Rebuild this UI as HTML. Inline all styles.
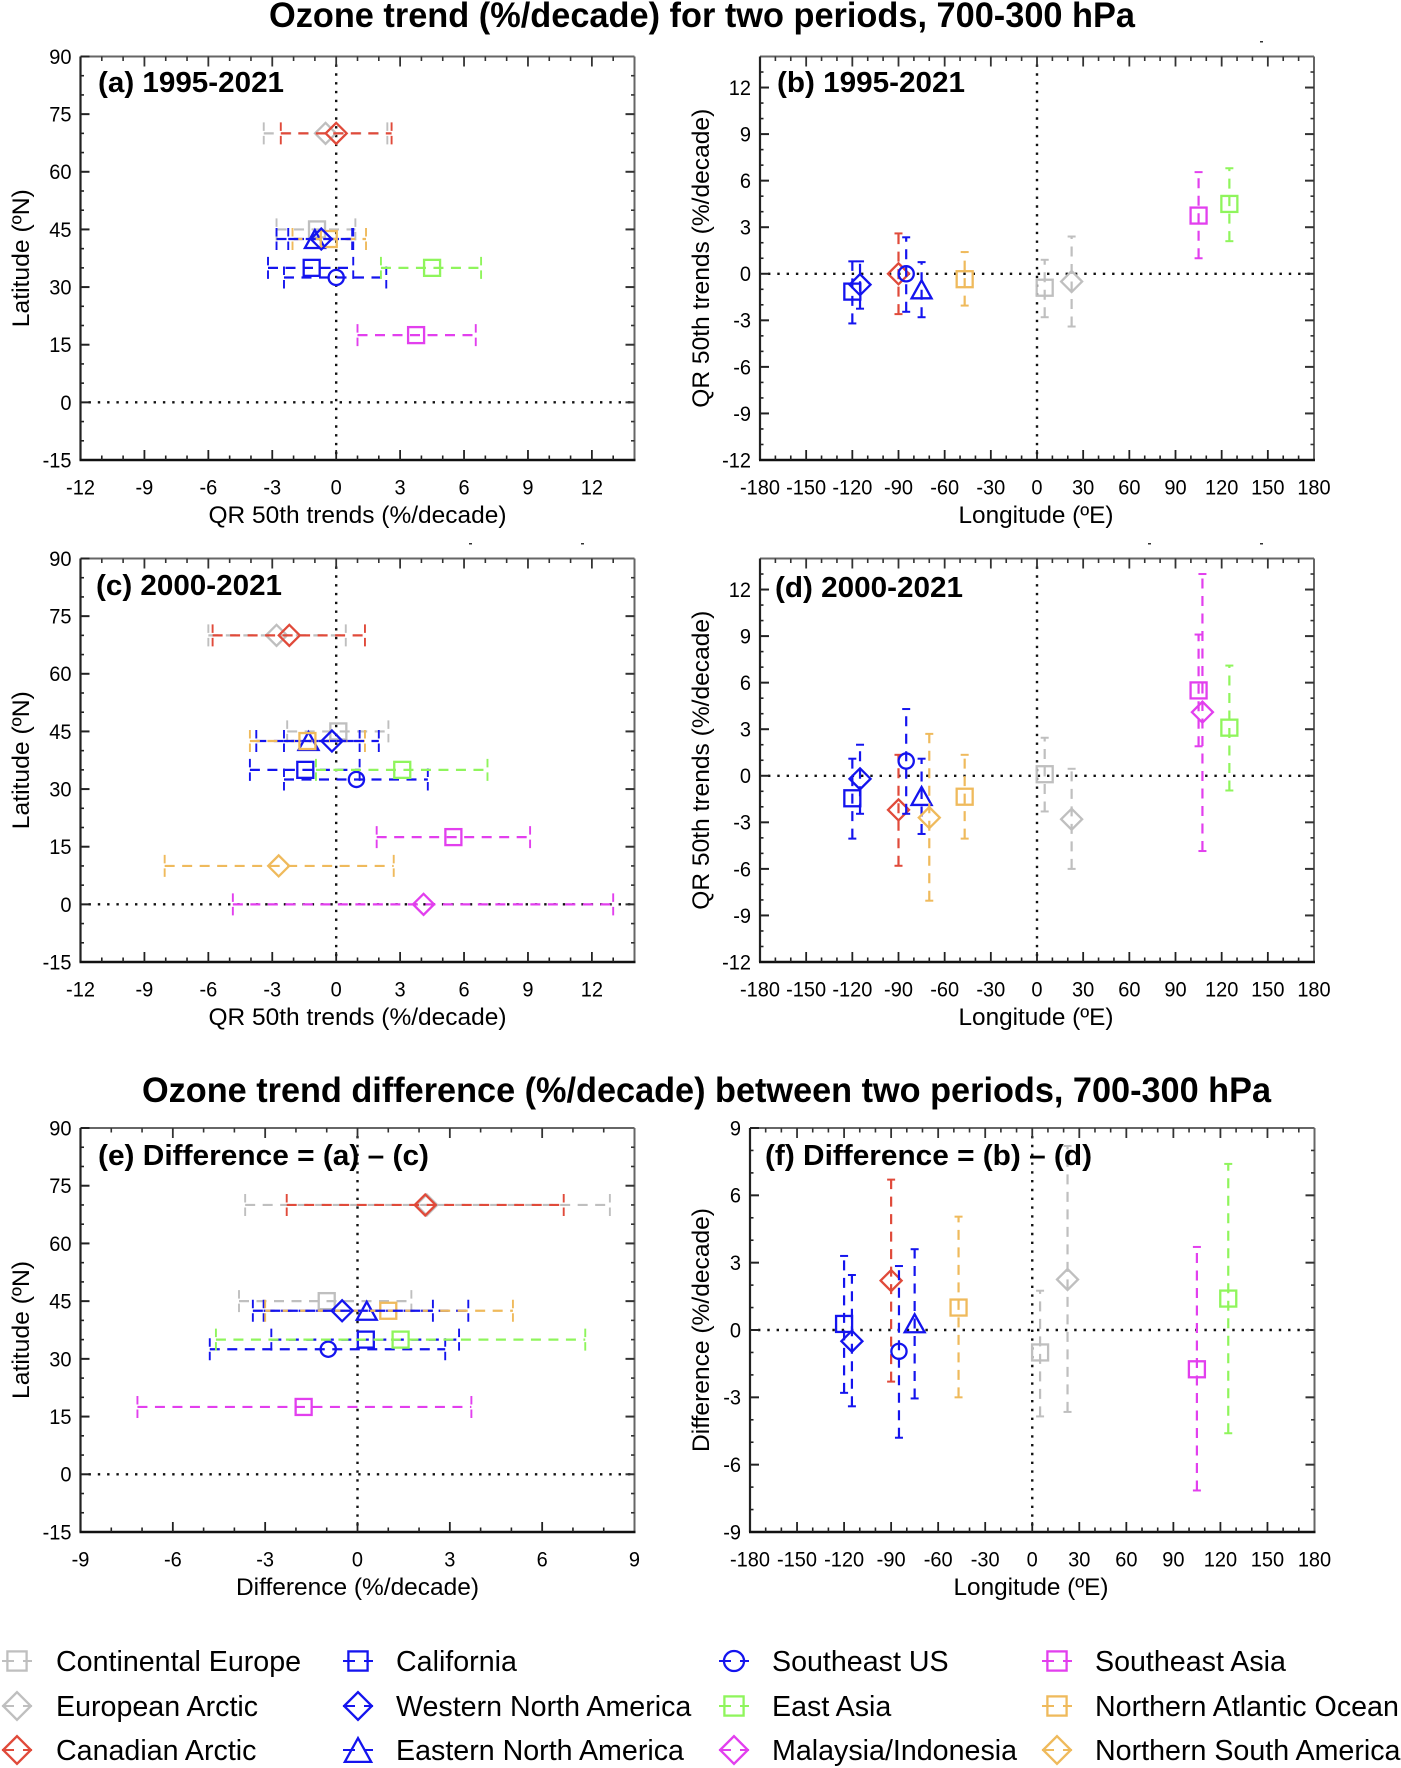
<!DOCTYPE html>
<html lang="en">
<head>
<meta charset="utf-8">
<title>Ozone trend for two periods</title>
<style>
html,body{margin:0;padding:0;background:#fff;}
svg{display:block;}
text{font-family:"Liberation Sans",sans-serif;fill:#000;}
</style>
</head>
<body>
<svg id="figure" xmlns="http://www.w3.org/2000/svg" width="1401" height="1768" viewBox="0 0 1401 1768">
<text x="269" y="27" font-size="35" font-weight="bold" textLength="866" lengthAdjust="spacingAndGlyphs">Ozone trend (%/decade) for two periods, 700-300 hPa</text>
<text x="142" y="1102" font-size="35" font-weight="bold" textLength="1129" lengthAdjust="spacingAndGlyphs">Ozone trend difference (%/decade) between two periods, 700-300 hPa</text>
<rect x="1260" y="41" width="3" height="1.5" fill="#333"/>
<rect x="469" y="543" width="3" height="1.5" fill="#333"/>
<rect x="581" y="543" width="3" height="1.5" fill="#333"/>
<rect x="1148" y="543" width="3" height="1.5" fill="#333"/>
<rect x="1260" y="543" width="3" height="1.5" fill="#333"/>
</svg>
<script>
// ---- data (draw order: back to front) ----
const regionNames = ["Continental Europe","European Arctic","Canadian Arctic","California","Eastern North America","Northern Atlantic Ocean","Western North America","Southeast US","East Asia","Southeast Asia","Malaysia/Indonesia","Northern South America"];
const regionLatitudes = [45,70,70,35,42.5,42.5,42.5,32.5,35,17.5,0,10];
const regionLongitudes = [5,22.5,-90,-120,-75,-47,-115,-85,125,105,107.5,-70];

const period1Trend = [-0.9,-0.5,0,-1.15,-1.0,-0.35,-0.7,0,4.5,3.75,null,null];
const period1Low   = [-2.8,-3.4,-2.6,-3.2,-2.8,-2.05,-2.25,-2.45,2.1,1.0,null,null];
const period1High  = [0.9,2.4,2.6,0.8,0.75,1.4,0.8,2.35,6.8,6.55,null,null];

const period2Trend = [0.1,-2.8,-2.2,-1.45,-1.3,-1.35,-0.2,0.95,3.1,5.5,4.1,-2.7];
const period2Low   = [-2.3,-6.0,-5.8,-4.05,-3.75,-4.05,-2.45,-2.45,-0.95,1.9,-4.85,-8.05];
const period2High  = [2.45,0.45,1.35,1.1,1.1,1.35,2.0,4.3,7.1,9.1,13.0,2.7];

const differenceTrend = [-1.0,2.25,2.2,0.27,0.3,1.0,-0.5,-0.95,1.4,-1.75,null,null];
const differenceLow   = [-3.85,-3.65,-2.3,-2.8,-3.05,-3.0,-3.4,-4.8,-4.6,-7.15,null,null];
const differenceHigh  = [1.75,8.2,6.7,3.3,3.6,5.05,2.45,2.85,7.4,3.7,null,null];

const trendTickLabels = [-12,-9,-6,-3,0,3,6,9,12];
const latitudeTickLabels = [-15,0,15,30,45,60,75,90];
const longitudeTickLabels = [-180,-150,-120,-90,-60,-30,0,30,60,90,120,150,180];
const differenceTickLabels = [-9,-6,-3,0,3,6,9];

const legendColumns = [
  ["Continental Europe","European Arctic","Canadian Arctic"],
  ["California","Western North America","Eastern North America"],
  ["Southeast US","East Asia","Malaysia/Indonesia"],
  ["Southeast Asia","Northern Atlantic Ocean","Northern South America"]
];

// ---- styling by region name ----
const GREY="#bfbfbf",RED="#e04a3a",BLUE="#1414ee",GREEN="#8ff55c",MAG="#e23fee",ORG="#efba5c";
const regionStyle = {
  "Continental Europe":[GREY,"square"],"European Arctic":[GREY,"diamond"],"Canadian Arctic":[RED,"diamond"],
  "California":[BLUE,"square"],"Western North America":[BLUE,"diamond"],"Eastern North America":[BLUE,"triangle"],
  "Southeast US":[BLUE,"circle"],"East Asia":[GREEN,"square"],"Malaysia/Indonesia":[MAG,"diamond"],
  "Southeast Asia":[MAG,"square"],"Northern Atlantic Ocean":[ORG,"square"],"Northern South America":[ORG,"diamond"]
};

const svg = document.getElementById('figure');
const NS = "http://www.w3.org/2000/svg";

function shape(parent, tag, name, props){
  const el = document.createElementNS(NS, tag);
  
  
  for (const k in props) el.setAttribute(k, props[k]);
  parent.appendChild(el);
  return el;
}
function label(parent, name, str, x, y, size, opts){
  const el = shape(parent, 'text', name, Object.assign({x:x, y:y, 'font-size':size}, opts||{}));
  el.textContent = str;
  return el;
}
function squeeze(el, factor){
  el.setAttribute('textLength', (el.getComputedTextLength()*factor).toFixed(2));
  el.setAttribute('lengthAdjust', 'spacingAndGlyphs');
  return el;
}
function line(parent, name, x1, y1, x2, y2, stroke, width, dash){
  const p = {x1:x1,y1:y1,x2:x2,y2:y2,stroke:stroke,'stroke-width':width};
  if (dash) p['stroke-dasharray'] = dash;
  return shape(parent, 'line', name, p);
}
function slug(s){ return s.toLowerCase().replace(/[^a-z0-9]+/g,'-'); }

function marker(parent, name, kind, cx, cy, color, k){
  const base = {fill:'none', stroke:color, 'stroke-width':2.3};
  if (kind === 'square') {
    const s = 16*k;
    return shape(parent,'rect',name,Object.assign({x:cx-s/2,y:cy-s/2,width:s,height:s},base));
  }
  if (kind === 'circle') {
    return shape(parent,'circle',name,Object.assign({cx:cx,cy:cy,r:7.6*k},base));
  }
  if (kind === 'diamond') {
    const r = 10.5*k;
    return shape(parent,'polygon',name,Object.assign({points:[cx-r,cy,cx,cy-r,cx+r,cy,cx,cy+r].join(' ')},base));
  }
  const w = 10*k, h = 9*k;
  return shape(parent,'polygon',name,Object.assign({points:[cx-w,cy+h,cx,cy-h,cx+w,cy+h].join(' ')},base));
}

function drawPanel(cfg){
  const g = shape(svg,'g','panel-'+cfg.id,{});
  const sx = v => cfg.x0 + (v-cfg.xMin)/(cfg.xMax-cfg.xMin)*(cfg.x1-cfg.x0);
  const sy = v => cfg.y1 - (v-cfg.yMin)/(cfg.yMax-cfg.yMin)*(cfg.y1-cfg.y0);

  // zero reference lines
  line(g,'zero-line-vertical',sx(0),cfg.y0+8,sx(0),cfg.y1-4,'#111',2.4,'2.4 6.4');
  line(g,'zero-line-horizontal',cfg.x0+8,sy(0),cfg.x1-4,sy(0),'#111',2.4,'2.4 6.9');

  // series
  regionNames.forEach((region,i)=>{
    const val = cfg.values[i];
    if (val === null) return;
    const lo = cfg.low[i], hi = cfg.high[i];
    const color = regionStyle[region][0], kind = regionStyle[region][1];
    const key = slug(region);
    let cx, cy;
    if (cfg.horizontal) {
      cx = sx(val); cy = sy(regionLatitudes[i]);
      line(g,'error-bar-'+key,sx(lo),cy,sx(hi),cy,color,2.2,'10 7.5');
      line(g,'error-cap-low-'+key,sx(lo),cy-11,sx(lo),cy+11,color,1.9,'8.5 5 8.5');
      line(g,'error-cap-high-'+key,sx(hi),cy-11,sx(hi),cy+11,color,1.9,'8.5 5 8.5');
    } else {
      cx = sx(regionLongitudes[i]); cy = sy(val);
      line(g,'error-bar-'+key,cx,sy(lo),cx,sy(hi),color,2.2,'10 7.5');
      line(g,'error-cap-low-'+key,cx-4,sy(lo),cx+4,sy(lo),color,2);
      line(g,'error-cap-high-'+key,cx-4,sy(hi),cx+4,sy(hi),color,2);
    }
    marker(g,'marker-'+key,kind,cx,cy,color,1);
  });

  // frame
  line(g,'axis-top',cfg.x0,cfg.y0,cfg.x1,cfg.y0,'#666',2);
  line(g,'axis-right',cfg.x1,cfg.y0,cfg.x1,cfg.y1,'#666',2);
  line(g,'axis-left',cfg.x0,cfg.y0,cfg.x0,cfg.y1,'#222',2.2);
  line(g,'axis-bottom',cfg.x0-1,cfg.y1,cfg.x1+1,cfg.y1,'#111',2.6);

  // x ticks
  for (let v=cfg.xMin; v<=cfg.xMax+1e-6; v+=cfg.xMinor){
    if (v===cfg.xMin || Math.abs(v-cfg.xMax)<1e-6) continue;
    const major = cfg.xTicks.indexOf(v)>=0, len = major?10:4.5, X = sx(v);
    line(g,'x-tick-bottom',X,cfg.y1,X,cfg.y1-len,'#222',major?1.8:1.6);
    line(g,'x-tick-top',X,cfg.y0,X,cfg.y0+len,'#333',major?1.8:1.6);
  }
  // y ticks
  for (let v=cfg.yMin; v<=cfg.yMax+1e-6; v+=cfg.yMinor){
    if (v===cfg.yMin || Math.abs(v-cfg.yMax)<1e-6) continue;
    const major = cfg.yTicks.indexOf(v)>=0, len = major?9:3.5, Y = sy(v);
    line(g,'y-tick-left',cfg.x0,Y,cfg.x0+len,Y,'#222',major?2:1.6);
    line(g,'y-tick-right',cfg.x1,Y,cfg.x1-len,Y,'#333',major?2:1.6);
  }
  cfg.yTicks.forEach(v=>{
    if (v===cfg.yMax) line(g,'y-tick-left',cfg.x0,sy(v),cfg.x0+9,sy(v),'#222',2);
  });

  // tick labels
  cfg.xTicks.forEach(v=>{
    squeeze(label(g,'x-tick-label',String(v),sx(v),cfg.y1+34.3,21.5,{'text-anchor':'middle'}),0.93);
  });
  cfg.yTicks.forEach(v=>{
    squeeze(label(g,'y-tick-label',String(v),cfg.x0-9,sy(v)+7.4,21.5,{'text-anchor':'end'}),0.93);
  });

  // axis titles
  label(g,'x-axis-title',cfg.xTitle,cfg.xTitleX-cfg.xTitleW/2,cfg.y1+63,24,{textLength:cfg.xTitleW,lengthAdjust:'spacingAndGlyphs'});
  const yMid = (cfg.y0+cfg.y1)/2;
  const yt = label(g,'y-axis-title',cfg.yTitle,0,0,24,{textLength:cfg.yTitleW,lengthAdjust:'spacingAndGlyphs'});
  yt.setAttribute('transform','translate('+cfg.yTitleX+','+(yMid+cfg.yTitleW/2)+') rotate(-90)');

  // panel label
  label(g,'panel-label',cfg.tag,cfg.tagX,cfg.tagY,29,{'font-weight':'bold',textLength:cfg.tagW,lengthAdjust:'spacingAndGlyphs'});
}

const LEFT = {x0:80.5,x1:634.5,yTitleX:29,yMin:-15,yMax:90,yTicks:latitudeTickLabels,yMinor:5,yTitle:'Latitude (ºN)',yTitleW:138,horizontal:true};
const RIGHT = {yTitleX:709,xMin:-180,xMax:180,xTicks:longitudeTickLabels,xMinor:10,xTitle:'Longitude (ºE)',xTitleW:155,horizontal:false};

drawPanel(Object.assign({},LEFT,{id:'a',y0:56.5,y1:460,xMin:-12,xMax:14,xTicks:trendTickLabels,xMinor:1,xTitle:'QR 50th trends (%/decade)',xTitleX:357.5,xTitleW:298,values:period1Trend,low:period1Low,high:period1High,tag:'(a) 1995-2021',tagX:98,tagY:92,tagW:186}));
drawPanel(Object.assign({},RIGHT,{id:'b',x0:760,x1:1314,y0:56.5,y1:460,yMin:-12,yMax:14,yTicks:trendTickLabels,yMinor:1,yTitle:'QR 50th trends (%/decade)',yTitleW:299,xTitleX:1036,values:period1Trend,low:period1Low,high:period1High,tag:'(b) 1995-2021',tagX:777,tagY:92,tagW:188}));
drawPanel(Object.assign({},LEFT,{id:'c',y0:558.5,y1:962,xMin:-12,xMax:14,xTicks:trendTickLabels,xMinor:1,xTitle:'QR 50th trends (%/decade)',xTitleX:357.5,xTitleW:298,values:period2Trend,low:period2Low,high:period2High,tag:'(c) 2000-2021',tagX:96,tagY:595,tagW:186}));
drawPanel(Object.assign({},RIGHT,{id:'d',x0:760,x1:1314,y0:558.5,y1:962,yMin:-12,yMax:14,yTicks:trendTickLabels,yMinor:1,yTitle:'QR 50th trends (%/decade)',yTitleW:299,xTitleX:1036,values:period2Trend,low:period2Low,high:period2High,tag:'(d) 2000-2021',tagX:775,tagY:597,tagW:188}));
drawPanel(Object.assign({},LEFT,{id:'e',y0:1128,y1:1532,xMin:-9,xMax:9,xTicks:differenceTickLabels,xMinor:1,xTitle:'Difference (%/decade)',xTitleX:357.5,xTitleW:243,values:differenceTrend,low:differenceLow,high:differenceHigh,tag:'(e) Difference = (a) \u2013 (c)',tagX:98,tagY:1165,tagW:331}));
drawPanel(Object.assign({},RIGHT,{id:'f',x0:750,x1:1314.5,y0:1128,y1:1532,yMin:-9,yMax:9,yTicks:differenceTickLabels,yMinor:1,yTitle:'Difference (%/decade)',yTitleW:244,xTitleX:1031,values:differenceTrend,low:differenceLow,high:differenceHigh,tag:'(f) Difference = (b) \u2013 (d)',tagX:765,tagY:1165,tagW:327}));

// legend
const legend = shape(svg,'g','legend',{});
const legendSymbolX = [17,358,734,1057];
const legendTextX = [56,396,772,1095];
const legendRowY = [1661,1706,1750];
legendColumns.forEach((col,c)=>{
  col.forEach((region,r)=>{
    const color = regionStyle[region][0], kind = regionStyle[region][1];
    const key = slug(region);
    const entry = shape(legend,'g','legend-entry-'+key,{});
    const x = legendSymbolX[c], y = legendRowY[r];
    line(entry,'legend-line-left',x-15,y,x-3,y,color,2);
    line(entry,'legend-line-right',x+6,y,x+15,y,color,2);
    marker(entry,'legend-marker-'+key,kind,x,y,color,kind==='square'?1.2:1.32);
    squeeze(label(entry,'legend-label-'+key,region,legendTextX[c],y+10,29,{}),0.987);
  });
});
</script>
</body>
</html>
